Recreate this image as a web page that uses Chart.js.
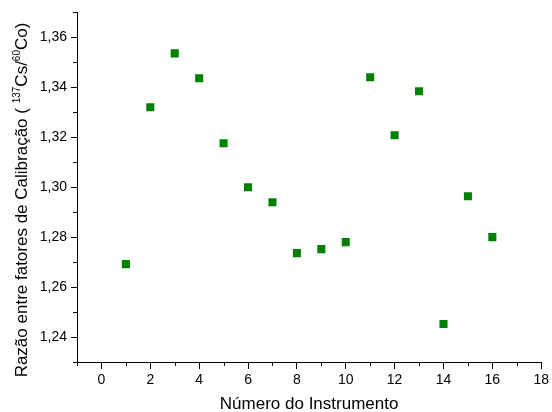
<!DOCTYPE html>
<html>
<head>
<meta charset="utf-8">
<script src="https://cdn.jsdelivr.net/npm/chart.js@4"></script>
<style>
  html, body { margin: 0; padding: 0; background: white; }
  #wrap { width: 552px; height: 412px; }
</style>
</head>
<body>
<div id="wrap"><canvas id="graph"></canvas></div>
<script>
// instrument number and ratio
const instruments = [1, 2, 3, 4, 5, 6, 7, 8, 9, 10, 11, 12, 13, 14, 15, 16]
const ratios = [1.2692, 1.332, 1.3536, 1.3436, 1.3176, 1.300, 1.294, 1.2736,
  1.2752, 1.278, 1.344, 1.3208, 1.3384, 1.2452, 1.2964, 1.280]
const xTicks = [0, 2, 4, 6, 8, 10, 12, 14, 16, 18]
const yTicks = [1.24, 1.26, 1.28, 1.30, 1.32, 1.34, 1.36]
const xMinor = [-1, 1, 3, 5, 7, 9, 11, 13, 15, 17]
const yMinor = [1.23, 1.25, 1.27, 1.29, 1.31, 1.33, 1.35, 1.37]
// y title in pieces, true = superscript
const yTitle = [["Razão entre fatores de Calibração ( ", false], ["137", true], ["Cs/", false], ["60", true], ["Co)", false]]

const FONT = "'Liberation Sans', Arial, sans-serif"
Chart.defaults.font.family = FONT
Chart.defaults.color = "black"

// short ticks between the labelled ones
const minorTicks = {
  id: "minorTicks",
  afterDraw(chart) {
    const ctx = chart.ctx
    const x = chart.scales.x
    const y = chart.scales.y
    ctx.save()
    ctx.strokeStyle = "black"
    ctx.lineWidth = 1
    ctx.beginPath()
    xMinor.forEach(v => {
      const px = Math.round(x.getPixelForValue(v)) + 0.5
      ctx.moveTo(px, x.top)
      ctx.lineTo(px, x.top + 4)
    })
    yMinor.forEach(v => {
      const py = Math.round(y.getPixelForValue(v)) + 0.5
      ctx.moveTo(y.right, py)
      ctx.lineTo(y.right - 4, py)
    })
    ctx.stroke()
    ctx.restore()
  }
}

// rotated y title with real superscripts
const yTitlePlugin = {
  id: "yTitlePlugin",
  afterDraw(chart) {
    const ctx = chart.ctx
    const big = "17px " + FONT
    const small = "10px " + FONT
    ctx.save()
    let total = 0
    yTitle.forEach(([t, sup]) => {
      ctx.font = sup ? small : big
      total += ctx.measureText(t).width
    })
    const cy = 200
    ctx.translate(27, cy + total / 2)
    ctx.rotate(-Math.PI / 2)
    ctx.fillStyle = "black"
    ctx.textBaseline = "alphabetic"
    let pos = 0
    yTitle.forEach(([t, sup]) => {
      ctx.font = sup ? small : big
      ctx.fillText(t, pos, sup ? -7 : 0)
      pos += ctx.measureText(t).width
    })
    ctx.restore()
  }
}

let points = instruments.map((n, i) => ({ x: n, y: ratios[i] }))

const config = {
  type: "scatter",
  data: {
    datasets: [{
      data: points,
      pointStyle: "rect",
      pointRadius: 5.7,
      pointHoverRadius: 5.7,
      backgroundColor: "#008000",
      borderWidth: 0,
    }],
  },
  options: {
    responsive: true,
    maintainAspectRatio: false,
    animation: false,
    layout: {
      padding: { top: 12, right: 9, left: 0, bottom: 0 }
    },
    plugins: {
      legend: { display: false },
      tooltip: { enabled: false },
    },
    scales: {
      x: {
        type: "linear",
        min: -1,
        max: 18,
        afterBuildTicks: s => { s.ticks = xTicks.map(v => ({ value: v })) },
        afterFit: s => { s.height = 50 },
        border: { display: true, color: "black", width: 1 },
        grid: { drawOnChartArea: false, tickLength: 7, tickColor: "black" },
        ticks: { font: { size: 14 }, padding: 3, maxRotation: 0 },
        title: {
          display: true,
          text: "Número do Instrumento",
          font: { size: 17 },
          padding: { top: 0, bottom: -3 }
        }
      },
      y: {
        type: "linear",
        min: 1.23,
        max: 1.37,
        afterBuildTicks: s => { s.ticks = yTicks.map(v => ({ value: v })) },
        afterFit: s => { s.width = 77 },
        border: { display: true, color: "black", width: 1 },
        grid: { drawOnChartArea: false, tickLength: 6, tickColor: "black" },
        ticks: {
          font: { size: 14 },
          padding: 4,
          callback: v => v.toFixed(2).replace(".", ",")
        }
      }
    }
  },
  plugins: [minorTicks, yTitlePlugin]
}

let chart = new Chart(document.getElementById("graph").getContext("2d"), config)
</script>
</body>
</html>
